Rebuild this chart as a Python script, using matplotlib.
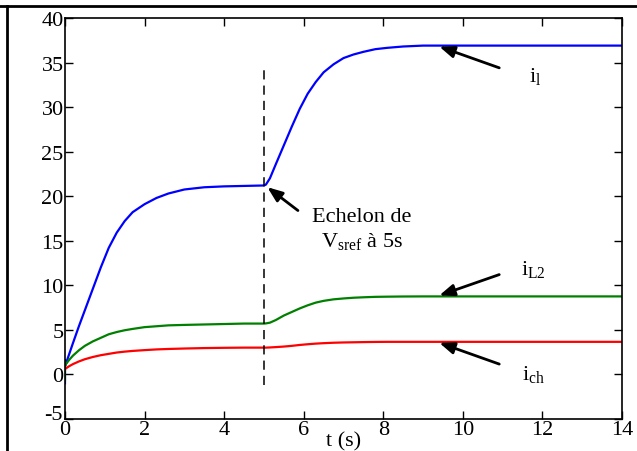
import matplotlib.pyplot as plt
from matplotlib.lines import Line2D

plt.rcParams["font.family"] = ["Liberation Serif", "DejaVu Serif"]
plt.rcParams["mathtext.fontset"] = "custom"
plt.rcParams["mathtext.rm"] = "Liberation Serif"
plt.rcParams["mathtext.it"] = "Liberation Serif:italic"
plt.rcParams["axes.unicode_minus"] = False

# Data
t = [0, 0, 0, 0.1, 0.2, 0.35, 0.5, 0.7, 0.9, 1.1, 1.3, 1.5, 1.7, 2.0, 2.3, 2.6,
     3.0, 3.5, 4.0, 4.5, 5.0,
     5.05, 5.15, 5.3, 5.5, 5.7, 5.9, 6.1, 6.3, 6.5, 6.75, 7.0, 7.25, 7.5, 7.8,
     8.1, 8.5, 9.0, 9.5, 14]
i_1 = [-1.0, 1.6, 0.9, 2.2, 3.5, 5.4, 7.2, 9.6, 12.0, 14.2, 15.9, 17.2, 18.2,
       19.1, 19.8, 20.3, 20.75, 21.0, 21.1, 21.15, 21.2,
       21.3, 22.0, 23.6, 25.7, 27.8, 29.8, 31.5, 32.8, 33.9, 34.8, 35.5, 35.9,
       36.2, 36.5, 36.65, 36.8, 36.9, 36.9, 36.9]
i_L2 = [-0.6, 1.4, 1.0, 1.6, 2.1, 2.7, 3.2, 3.7, 4.1, 4.5, 4.75, 4.95, 5.1,
        5.3, 5.4, 5.5, 5.55, 5.6, 5.65, 5.7, 5.7,
        5.72, 5.8, 6.1, 6.6, 7.0, 7.4, 7.75, 8.05, 8.25, 8.42, 8.52, 8.6,
        8.65, 8.7, 8.72, 8.74, 8.75, 8.75, 8.75]
i_ch = [0.6, 0.6, 0.6, 0.9, 1.15, 1.45, 1.7, 1.95, 2.15, 2.3, 2.45, 2.55, 2.63,
        2.72, 2.8, 2.85, 2.9, 2.95, 2.98, 3.0, 3.0,
        3.0, 3.02, 3.06, 3.12, 3.2, 3.3, 3.38, 3.45, 3.5, 3.55, 3.58, 3.6,
        3.62, 3.64, 3.65, 3.65, 3.65, 3.65, 3.65]

yticks = list(range(-5, 41, 5))
ylabels = [""] + [str(v) for v in yticks[1:]]

fig = plt.figure(figsize=(6.37, 4.52), dpi=100)
ax = fig.add_axes([0.102, 0.071, 0.8745, 0.887])

ax.plot(t, i_1, color="#0000ff", lw=1.6)
ax.plot(t, i_L2, color="#008000", lw=1.6)
ax.plot(t, i_ch, color="#ff0000", lw=1.6)
ax.vlines(5, -1.2, 34.6, colors="black", linestyles=(0, (6, 4)), lw=1.1)

ax.set_xlim(0, 14)
ax.set_ylim(-5, 40)
ax.set_xticks(range(0, 15, 2))
ax.set_yticks(yticks)
ax.set_yticklabels(ylabels)
ax.tick_params(direction="in", top=True, right=True, length=6, width=1,
               labelsize=16, pad=1)
# the -5 label sits a little higher, above the 0 of the x axis
ax.text(-0.06, -4.5, "-5", fontsize=16, ha="right", va="center")
ax.set_xlabel("t (s)", fontsize=16, labelpad=-6)
for s in ax.spines.values():
    s.set_linewidth(1.2)

arr = dict(arrowstyle="-|>,head_length=0.9,head_width=0.35", color="black", lw=2)
ax.annotate("", xy=(9.34, 36.9), xytext=(10.98, 34.3), arrowprops=arr)
ax.annotate("", xy=(9.34, 8.75), xytext=(10.98, 11.3), arrowprops=arr)
ax.annotate("", xy=(9.34, 3.65), xytext=(10.98, 1.05), arrowprops=arr)
ax.annotate("", xy=(5.03, 21.2), xytext=(5.91, 18.2), arrowprops=arr)

ax.text(11.81, 33.6, r"i$_{\rm l}$", fontsize=16, ha="center", va="center")
ax.text(11.78, 11.9, r"i$_{\rm L2}$", fontsize=16, ha="center", va="center")
ax.text(11.78, 0.1, r"i$_{\rm ch}$", fontsize=16, ha="center", va="center")
ax.text(7.46, 17.7, "Echelon de", fontsize=16, ha="center", va="center")
ax.text(7.46, 15.0, r"V$_{\rm sref}$ à 5s", fontsize=16, ha="center", va="center")

# frame of the surrounding table
fig.add_artist(Line2D([0, 1], [1 - 7 / 452, 1 - 7 / 452], color="black", lw=2))
fig.add_artist(Line2D([7 / 637, 7 / 637], [0, 1 - 7 / 452], color="black", lw=2))

fig.savefig("out.png", dpi=100)
